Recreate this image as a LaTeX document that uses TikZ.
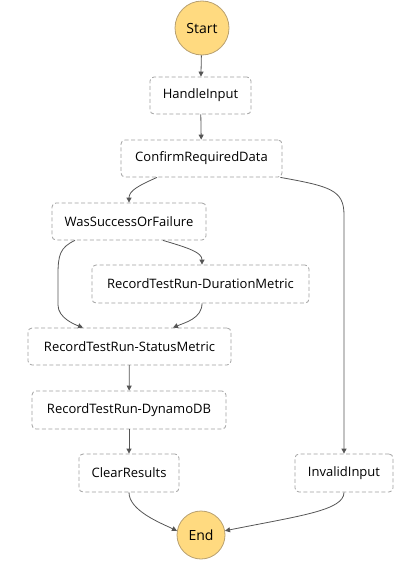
\documentclass[tikz,border=0pt]{standalone}
\usepackage{fontspec}
\setmainfont{Open Sans}
\usetikzlibrary{arrows.meta}
\definecolor{circfill}{HTML}{FFDA80}
\definecolor{circdraw}{HTML}{B8A070}
\definecolor{boxdraw}{HTML}{A0A0A0}
\definecolor{arrowc}{HTML}{555555}
\tikzset{
  statebox/.style={draw=boxdraw, line width=0.8pt, dash pattern=on 4pt off 2.5pt, rounded corners=4pt,
    minimum height=37pt, inner sep=0pt, font=\fontsize{13}{15}\selectfont, text=black},
  termcirc/.style={circle, draw=circdraw, line width=0.8pt, fill=circfill, inner sep=0pt,
    font=\fontsize{14}{16}\selectfont, text=black},
  conn/.style={draw=arrowc, line width=0.8pt, -{Triangle[length=5pt,width=5pt]}}
}
\begin{document}
\begin{tikzpicture}[x=1pt,y=-1pt]
\useasboundingbox (0,0) rectangle (410,570);
\node[termcirc, minimum size=54pt] (start) at (202,28) {Start};
\node[statebox, minimum width=101pt] (handle) at (200.5,95.5) {HandleInput};
\node[statebox, minimum width=161pt] (confirm) at (201.5,158.5) {ConfirmRequiredData};
\node[statebox, minimum width=154pt] (was) at (129,221.5) {WasSuccessOrFailure};
\node[statebox, minimum width=217pt, minimum height=38pt] (dur) at (200.5,284) {RecordTestRun-DurationMetric};
\node[statebox, minimum width=203pt] (status) at (129.5,346.5) {RecordTestRun-StatusMetric};
\node[statebox, minimum width=194pt, minimum height=38pt] (dyn) at (129,410) {RecordTestRun-DynamoDB};
\node[statebox, minimum width=100pt, minimum height=38pt] (clear) at (129,473) {ClearResults};
\node[statebox, minimum width=98pt, minimum height=38pt] (invalid) at (344,473) {InvalidInput};
\node[termcirc, minimum size=48pt] (end) at (201,535) {End};

\draw[conn] (start) -- (handle);
\draw[conn] (handle) -- (confirm);
\draw[conn] ([xshift=-44.5pt]confirm.south) .. controls +(-18,8) and +(0,-12) .. (was.north);
\draw[conn] ([xshift=-2pt]confirm.south east) .. controls +(50,9) and +(0,-25) .. (344,215) -- (invalid.north);
\draw[conn] ([xshift=34pt]was.south) .. controls +(27,8) and +(0,-12) .. ([xshift=1.5pt]dur.north);
\draw[conn] ([xshift=-54pt]was.south) .. controls +(-15,7) and +(0,-20) .. (58,275) -- (58,305) .. controls +(0,13) and +(-8,-3) .. ([xshift=-46.5pt]status.north);
\draw[conn] ([xshift=1.5pt]dur.south) .. controls +(0,15) and +(12,-5) .. ([xshift=43.5pt]status.north);
\draw[conn] (status) -- (dyn);
\draw[conn] (dyn) -- (clear);
\draw[conn] (clear.south) .. controls +(0,18) and +(-17,-8) .. (end.170);
\draw[conn] (invalid.south) .. controls +(0,18) and +(75,-15) .. (end.10);
\end{tikzpicture}
\end{document}
